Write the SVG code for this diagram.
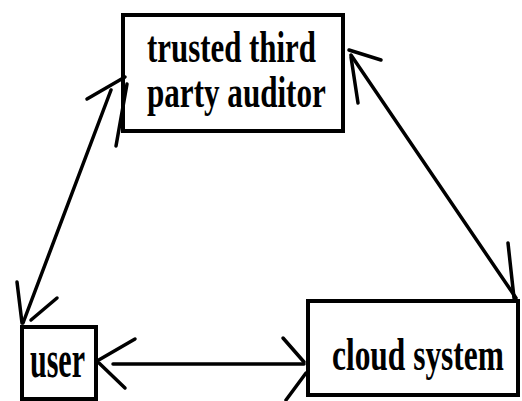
<svg xmlns="http://www.w3.org/2000/svg" width="522" height="401" viewBox="0 0 522 401">
<style>
.box{fill:#fff;stroke:#000;stroke-width:4}
.lbl{font-family:"Liberation Serif","Times New Roman",serif;font-weight:bold;fill:#000}
.ln{fill:none;stroke:#000;stroke-width:3.5;stroke-linecap:round;stroke-linejoin:round}
</style>
<rect width="522" height="401" fill="#fff"/>
<g id="ttpa">
<rect class="box" x="123" y="15" width="220" height="116"/>
<text class="lbl" x="0" y="0" font-size="44" transform="translate(147,62) scale(0.702,1)">trusted third</text>
<text class="lbl" x="0" y="0" font-size="44" transform="translate(147,107) scale(0.707,1)">party auditor</text>
</g>
<g id="user">
<rect class="box" x="22" y="327" width="74" height="72"/>
<text class="lbl" x="0" y="0" font-size="52" transform="translate(30,377) scale(0.577,1)">user</text>
</g>
<g id="cloud">
<rect class="box" x="308" y="301" width="210" height="94"/>
<text class="lbl" x="0" y="0" font-size="46" transform="translate(332,370) scale(0.683,1)">cloud system</text>
</g>
<g id="connectors">
<path class="ln" d="M111,90 L23,323"/>
<path class="ln" d="M87,99 L125,77"/>
<path class="ln" d="M127,84 L116,146"/>
<path class="ln" d="M17,282 L22,323"/>
<path class="ln" d="M31,320 L57,298"/>
<path class="ln" d="M22,330 L22,345"/>
<path class="ln" d="M351,55 L516,298"/>
<path class="ln" d="M349,50 L381,60"/>
<path class="ln" d="M351,57 L358,103"/>
<path class="ln" d="M508,243 L514,298"/>
<path class="ln" d="M113,364 L304,364"/>
<path class="ln" d="M97,361 L135,339"/>
<path class="ln" d="M99,363 L125,388"/>
<path class="ln" d="M283,338 L304,362"/>
<path class="ln" d="M306,373 L286,400"/>
</g>
</svg>
